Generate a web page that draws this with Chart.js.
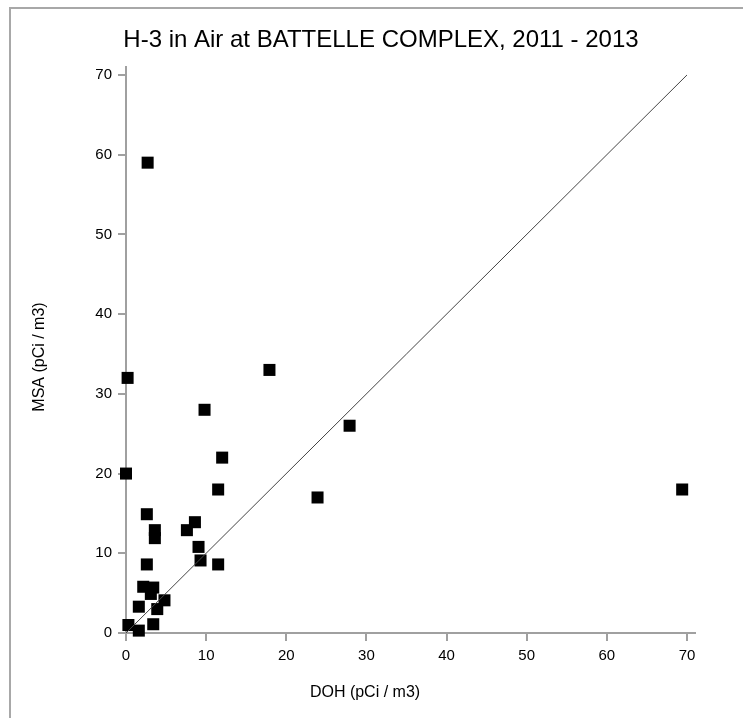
<!DOCTYPE html>
<html>
<head>
<meta charset="utf-8">
<title>H-3 in Air at BATTELLE COMPLEX, 2011 - 2013</title>
<script src="https://cdn.jsdelivr.net/npm/chart.js@4.4.1/dist/chart.umd.min.js"></script>
<style>
    html, body { margin: 0; padding: 0; background: #fff; overflow: hidden; }
    #wrap { position: relative; width: 743px; height: 718px; overflow: hidden; }
    #frame { position: absolute; left: 9px; top: 7px; width: 800px; height: 800px;
             border-left: 2px solid #a8a8a8; border-top: 2px solid #a8a8a8; }
    #scatterChart { position: absolute; left: 0; top: 0; }
</style>
</head>
<body>
<div id="wrap">
    <div id="frame"></div>
    <canvas id="scatterChart" width="743" height="718"></canvas>
</div>
<script>
// H-3 concentrations, DOH vs MSA (pCi / m3)
var chartTitle = 'H-3 in Air at BATTELLE COMPLEX, 2011 - 2013';
var xAxisTitle = 'DOH (pCi / m3)';
var yAxisTitle = 'MSA (pCi / m3)';

var dohValues = [2.7, 0.2, 0, 17.9, 9.8, 27.9, 12.0, 11.5, 23.9, 69.4,
                 2.6, 3.6, 3.6, 7.6, 8.6, 9.05, 9.3, 11.5, 2.6, 2.15,
                 3.4, 3.1, 4.8, 3.9, 1.6, 3.4, 0.3, 1.6];
var msaValues = [59, 32, 20, 33, 28, 26, 22, 18, 17, 18,
                 14.9, 12.9, 11.9, 12.9, 13.9, 10.8, 9.1, 8.6, 8.6, 5.8,
                 5.7, 4.9, 4.1, 3.0, 3.3, 1.1, 1.0, 0.3];

// 1:1 reference line
var lineX = [0, 70];
var lineY = [0, 70];

var tickValues = [0, 10, 20, 30, 40, 50, 60, 70];

function toPoints(xs, ys) {
    return xs.map(function (x, i) { return { x: x, y: ys[i] }; });
}

var fontFamily = '"Liberation Sans", Arial, sans-serif';

// titles centred on the whole picture, like the original
var textLabels = {
    id: 'textLabels',
    afterDraw: function (chart) {
        var ctx = chart.ctx;
        ctx.save();
        ctx.fillStyle = '#000';
        ctx.textAlign = 'center';
        ctx.textBaseline = 'middle';
        ctx.font = '24px ' + fontFamily;
        ctx.fillText(chartTitle, 381, 40);
        ctx.font = '16px ' + fontFamily;
        ctx.fillText(xAxisTitle, 365, 693);
        ctx.translate(40, 357);
        ctx.rotate(-Math.PI / 2);
        ctx.fillText(yAxisTitle, 0, 0);
        ctx.restore();
    }
};

var ctx = document.getElementById('scatterChart').getContext('2d');
new Chart(ctx, {
    type: 'scatter',
    data: {
        datasets: [{
            label: '1:1',
            data: toPoints(lineX, lineY),
            showLine: true,
            borderColor: '#444',
            borderWidth: 1,
            pointRadius: 0,
            fill: false
        }, {
            label: 'H-3',
            data: toPoints(dohValues, msaValues),
            pointStyle: 'rect',
            pointRadius: 8.5,
            pointHoverRadius: 8.5,
            backgroundColor: '#000',
            borderWidth: 0,
            clip: false
        }]
    },
    options: {
        responsive: false,
        animation: false,
        layout: {
            padding: { left: 0, top: 67, right: 48, bottom: 0 }
        },
        plugins: {
            legend: { display: false },
            tooltip: { enabled: false },
            title: { display: false }
        },
        scales: {
            x: {
                type: 'linear',
                min: 0,
                max: 71,
                afterFit: function (scale) {
                    scale.height = 85;
                    scale.paddingLeft = 0;
                    scale.paddingRight = 0;
                },
                afterBuildTicks: function (scale) {
                    scale.ticks = tickValues.map(function (v) { return { value: v }; });
                },
                border: { color: '#a0a0a0', width: 2 },
                grid: { drawOnChartArea: false, drawTicks: true, tickLength: 8, color: '#a0a0a0', lineWidth: 2 },
                ticks: {
                    color: '#000',
                    padding: 6,
                    maxRotation: 0,
                    font: { family: fontFamily, size: 15 }
                }
            },
            y: {
                type: 'linear',
                min: 0,
                max: 71,
                afterFit: function (scale) {
                    scale.width = 126;
                    scale.paddingTop = 0;
                    scale.paddingBottom = 0;
                },
                afterBuildTicks: function (scale) {
                    scale.ticks = tickValues.map(function (v) { return { value: v }; });
                },
                border: { color: '#a0a0a0', width: 2 },
                grid: { drawOnChartArea: false, drawTicks: true, tickLength: 8, color: '#a0a0a0', lineWidth: 2 },
                ticks: {
                    color: '#000',
                    padding: 6,
                    font: { family: fontFamily, size: 15 }
                }
            }
        }
    },
    plugins: [textLabels]
});
</script>
</body>
</html>
